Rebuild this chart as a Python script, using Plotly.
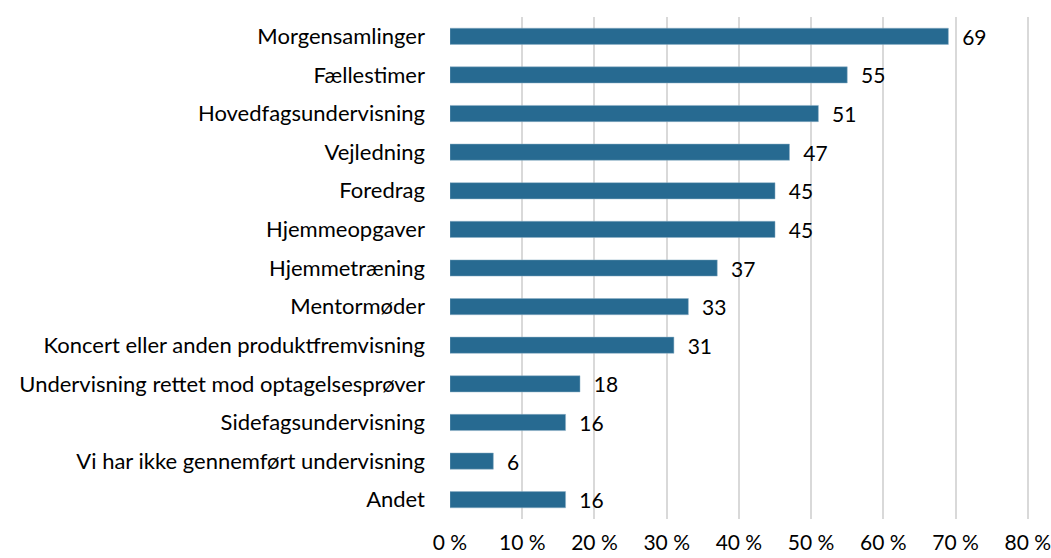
import plotly.graph_objects as go

# categories top to bottom as in the chart
categories = [
    "Morgensamlinger",
    "Fællestimer",
    "Hovedfagsundervisning",
    "Vejledning",
    "Foredrag",
    "Hjemmeopgaver",
    "Hjemmetræning",
    "Mentormøder",
    "Koncert eller anden produktfremvisning",
    "Undervisning rettet mod optagelsesprøver",
    "Sidefagsundervisning",
    "Vi har ikke gennemført undervisning",
    "Andet",
]
values = [69, 55, 51, 47, 45, 45, 37, 33, 31, 18, 16, 6, 16]
tick_vals = [0, 10, 20, 30, 40, 50, 60, 70, 80]
tick_text = ["0 %", "10 %", "20 %", "30 %", "40 %", "50 %", "60 %", "70 %", "80 %"]

fig = go.Figure(go.Bar(
    y=categories,
    x=values,
    orientation="h",
    marker=dict(color="#276A91", line=dict(color="#8FB0C6", width=0.5)),
    width=0.42,
    text=[str(v) for v in values],
    texttemplate="  %{text}",
    textposition="outside",
    constraintext="none",
    textfont=dict(size=21, color="#000000"),
    cliponaxis=False,
))

fig.update_layout(
    width=1051,
    height=558,
    margin=dict(l=450, r=21, t=17, b=39, autoexpand=False),
    plot_bgcolor="white",
    paper_bgcolor="white",
    font=dict(family="Lato, Open Sans, sans-serif", size=21, color="#000000"),
    showlegend=False,
)
fig.update_xaxes(
    range=[0, 80.3],  # a bit past 80 so the last gridline is drawn
    tickmode="array",
    tickvals=tick_vals,
    ticktext=tick_text,
    showgrid=True,
    gridcolor="#D9D9D9",
    gridwidth=1.5,
    zeroline=False,
    showline=False,
    automargin=False,
    ticklabeloverflow="allow",
    ticklabelstandoff=9,
    tickfont=dict(size=21),
)
fig.update_yaxes(
    autorange="reversed",
    showgrid=False,
    ticks="",
    automargin=False,
    ticklabelstandoff=24,
    tickfont=dict(size=22),
)

# drop the browser's default 8px body margin so the figure sits at 0,0
fig.write_html(
    "out.html",
    config={"displayModeBar": False},
    post_script="document.body.style.margin='0';",
)
